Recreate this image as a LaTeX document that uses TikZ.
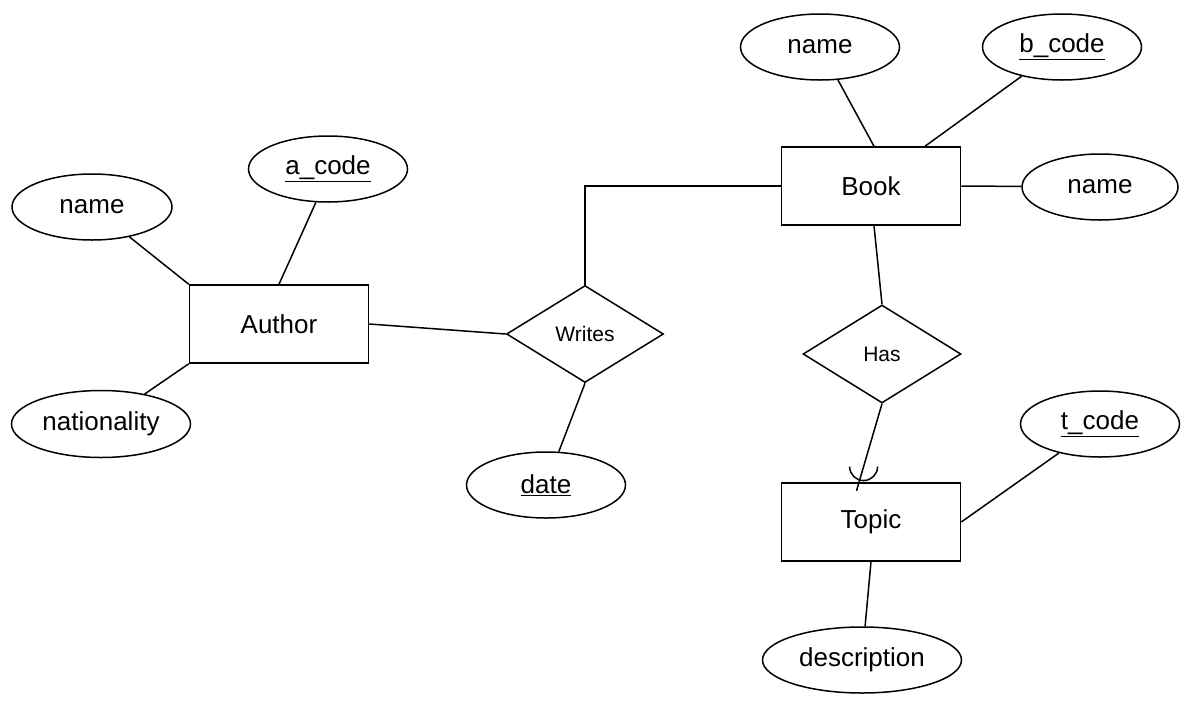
\documentclass[tikz,border=0pt]{standalone}
\usepackage{fontspec}
\setmainfont{Liberation Sans}
\usetikzlibrary{shapes.geometric,calc}
\begin{document}
\begin{tikzpicture}[x=1pt,y=-1pt,line width=1.5pt,
	entity/.style={rectangle,draw=black,minimum width=179pt,minimum height=78pt,font=\fontsize{26}{30}\selectfont},
	attr/.style={ellipse,draw=black,inner sep=0pt,minimum width=159pt,minimum height=66pt,font=\fontsize{26}{30}\selectfont},
	rel/.style={diamond,draw=black,inner sep=0pt,minimum width=157pt,minimum height=97pt,font=\fontsize{21}{24}\selectfont}]
	\useasboundingbox (0,0) rectangle (1181,702);
	% entities
	\node[entity] (author) at (279,324) {Author};
	\node[entity] (book) at (871,186) {Book};
	\node[entity] (topic) at (871,522) {Topic};
	% relationships
	\node[rel] (writes) at (585,334) {Writes};
	\node[rel,minimum width=158pt,minimum height=98pt] (has) at (882,354) {Has};
	% attributes
	\node[attr,minimum width=160pt] (aname) at (92,207) {name};
	\node[attr] (acode) at (328,169) {\underline{a\_code}};
	\node[attr,minimum width=179pt,minimum height=67pt] (anat) at (101,424) {nationality};
	\node[attr] (wdate) at (546,485) {\underline{date}};
	\node[attr] (bname) at (820,47) {name};
	\node[attr] (bcode) at (1062,47) {\underline{b\_code}};
	\node[attr,minimum width=156pt] (bname2) at (1100,187) {name};
	\node[attr] (tcode) at (1100,424) {\underline{t\_code}};
	\node[attr,minimum width=199pt] (tdesc) at (862,660) {description};
	% connectors
	\draw (author.north west) -- (aname);
	\draw (author.north) -- (acode.250);
	\draw (author.south west) -- (anat);
	\draw (author.east) -- (writes.west);
	\draw (writes.north) |- (book.west);
	\draw (writes.south) -- (wdate);
	\draw ([xshift=3pt]book.north) -- (bname);
	\draw ([xshift=54pt]book.north) -- (bcode);
	\draw (book.east) -- (bname2);
	\draw ([xshift=3pt]book.south) -- (has.north);
	\coordinate (hasend) at ([xshift=-12pt]topic.north);
	\coordinate (mk) at ($(has.south)!0.8!(hasend)$);
	\draw (has.south) -- ($(has.south)!1.11!(hasend)$);
	\draw ([xshift=-14pt]mk) arc[start angle=180,end angle=360,radius=14pt];
	\draw (topic.east) -- (tcode);
	\draw (topic.south) -- (tdesc);
\end{tikzpicture}
\end{document}
